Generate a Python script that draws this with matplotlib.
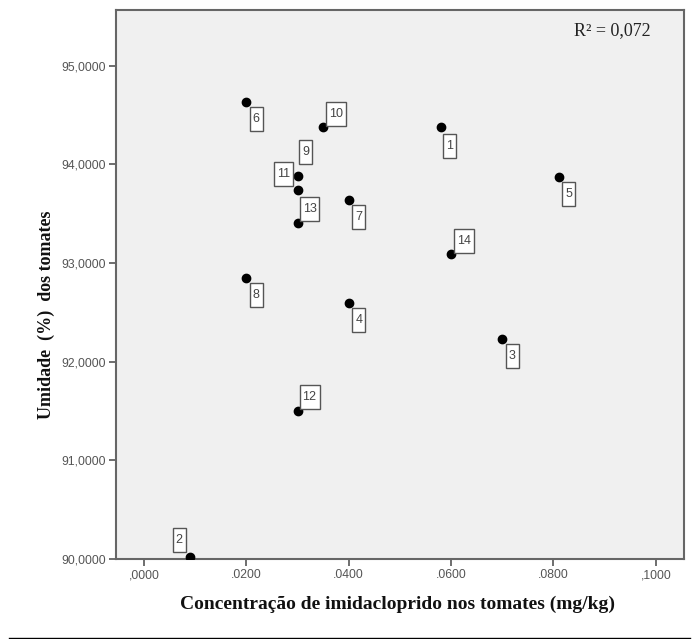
import matplotlib
matplotlib.use("Agg")
import matplotlib.pyplot as plt
from matplotlib.lines import Line2D
from matplotlib.path import Path
from matplotlib import font_manager

# Data
case_ids = ["1", "2", "3", "4", "5", "6", "7", "8", "9", "10", "11", "12", "13", "14"]
concentracao = [0.058, 0.009, 0.070, 0.040, 0.081, 0.020, 0.040, 0.020, 0.030, 0.035, 0.030, 0.030, 0.030, 0.060]
umidade = [94.376, 90.023, 92.231, 92.593, 93.875, 94.635, 93.639, 92.852, 93.741, 94.376, 93.886, 91.505, 93.403, 93.092]
x_ticks = [0.0, 0.02, 0.04, 0.06, 0.08, 0.10]
x_tick_labels = [",0000", ".0200", ".0400", ".0600", ".0800", ",1000"]
y_ticks = [90, 91, 92, 93, 94, 95]
y_tick_labels = ["90,0000", "91,0000", "92,0000", "93,0000", "94,0000", "95,0000"]
r2_text = "R² = 0,072"

# label offsets in pixels (dx right, dy down)
label_offsets = {
    "1": (9, 19), "2": (-11, -17), "3": (10, 17), "4": (10, 17), "5": (10, 17),
    "6": (10, 17), "7": (10, 17), "8": (10, 17), "9": (8, -38), "10": (13, -13),
    "11": (-14, -2), "12": (12, -14), "13": (12, -14), "14": (13, -13),
}

names = {f.name for f in font_manager.fontManager.ttflist}
narrow = "Liberation Sans Narrow" if "Liberation Sans Narrow" in names else "Liberation Sans"

W, H = 692, 639
fig = plt.figure(figsize=(W / 100, H / 100), dpi=100)
fig.patch.set_facecolor("white")
ax = fig.add_axes([116 / W, 1 - 559 / H, (684 - 116) / W, (559 - 10) / H])
ax.set_facecolor("#f0f0f0")

ax.scatter(concentracao, umidade, s=36, color="black", zorder=3)

px2pt = 72 / 100


def tall_box(x0, y0, width, height, mutation_size):
    padx = 3.0
    pady = 6.0
    x0 -= padx
    y0 -= pady
    x1 = x0 + width + 2 * padx
    y1 = y0 + height + 2 * pady
    return Path([(x0, y0), (x1, y0), (x1, y1), (x0, y1), (x0, y0)], closed=True)


for cid, xv, yv in zip(case_ids, concentracao, umidade):
    dx, dy = label_offsets[cid]
    ax.annotate(cid, (xv, yv), xytext=(dx * px2pt, -dy * px2pt), textcoords="offset points",
                ha="center", va="center", fontsize=9, color="#444444",
                family=narrow,
                bbox=dict(boxstyle=tall_box, fc="white", ec="#555555", lw=1.0),
                zorder=4)

ax.set_xlim(-0.00547, 0.1055)
ax.set_ylim(90, 95.564)
ax.set_xticks(x_ticks)
ax.set_xticklabels(x_tick_labels)
ax.set_yticks(y_ticks)
ax.set_yticklabels(y_tick_labels)
for lab in ax.get_xticklabels() + ax.get_yticklabels():
    lab.set_family(narrow)
    lab.set_fontsize(8.8)
    lab.set_color("#555555")
ax.tick_params(direction="out", length=5, width=1.2, color="#555555", pad=2.5)

for sp in ax.spines.values():
    sp.set_color("#666666")
    sp.set_linewidth(1.5)

ax.text((651 - 116) / 568, (559 - 31) / 549, r2_text, transform=ax.transAxes,
        ha="right", va="center", fontsize=13, family="Liberation Serif", color="#222222")

fig.text(398 / W, 1 - 604 / H, "Concentração de imidacloprido nos tomates (mg/kg)",
         ha="center", va="center", fontsize=14, fontweight="bold",
         family="Liberation Serif", color="#111111")
fig.text(46 / W, 1 - 315 / H, "Umidade  (%)  dos tomates", rotation=90,
         ha="center", va="center", fontsize=13, fontweight="bold",
         family="Liberation Serif", color="#111111")

fig.add_artist(Line2D([9 / W, 690 / W], [1 - 638 / H, 1 - 638 / H], color="black", lw=1.0,
                      transform=fig.transFigure))

fig.savefig("out.png", dpi=100)
